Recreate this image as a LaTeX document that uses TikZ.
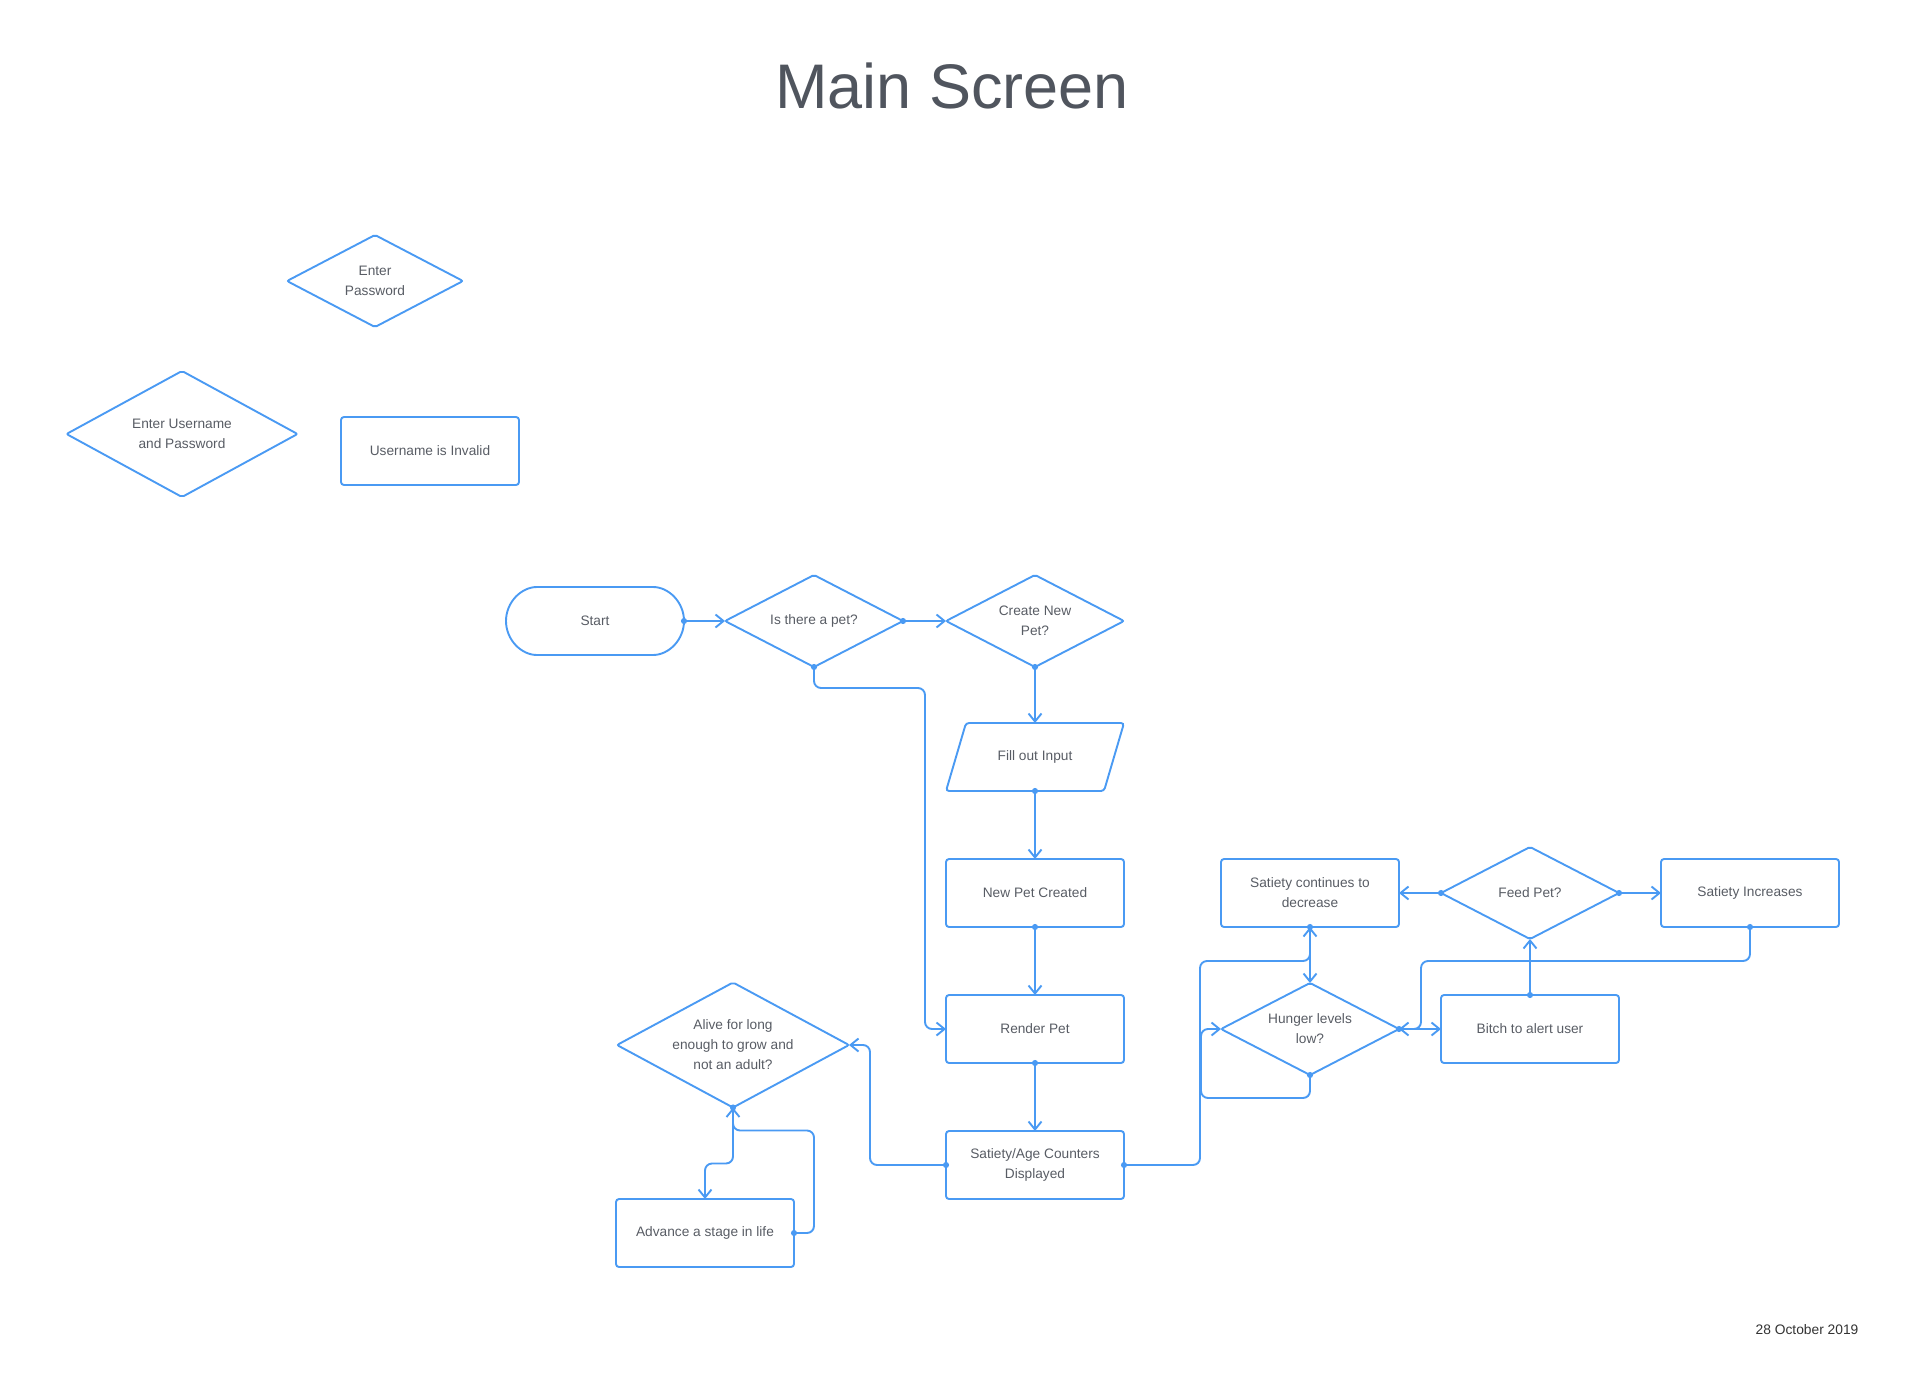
\documentclass[tikz,border=0pt]{standalone}
\usepackage{fontspec}
\setmainfont{Liberation Sans}
\usetikzlibrary{
	arrows.meta,
	shapes.geometric,
	shapes.misc
}
\tikzset{
	every picture/.style={
		line width=1.9pt,
		text=tc,
	},
}
\tikzstyle{box} = [
	rectangle,
	rounded corners=3pt,
	minimum width=178,
	minimum height=68,
	inner sep=0mm,
	outer sep=0mm,
	draw=lc,
	align=center,
	font=\fontsize{13.7}{20}\selectfont
]
\tikzstyle{term} = [box, rounded rectangle]
\tikzstyle{io} = [box, draw=none, minimum width=158]
\tikzstyle{ask} = [
	box,
	diamond,
	rounded corners=2pt,
	shape aspect=2,
	minimum height=92
]
\tikzstyle{flow} = [
	draw=lc,
	rounded corners=7pt,
	{Circle[length=6pt]}-{Straight Barb[length=8pt, width=13pt]},
	shorten <=-3pt
]
\definecolor{lc}{RGB}{74,154,243}
\definecolor{tc}{RGB}{88,92,100}
\definecolor{hc}{RGB}{80,85,94}

\begin{document}
\begin{tikzpicture}[x=1pt, y=-1pt]
	\useasboundingbox (0,0) rectangle (1905,1394);

	\node[text=hc, anchor=base, font=\fontsize{63}{70}\selectfont] (title) at (952,109) {Main Screen};
	\node[text=black!80, font=\fontsize{13.8}{16}\selectfont] (date) at (1807,1330) {28 October 2019};

	% login
	\node[ask, minimum width=176] (pwd) at (375,281) {Enter\\Password};
	\node[ask, minimum width=231, minimum height=126] (user) at (182,434) {Enter Username\\and Password};
	\node[box] (invalid) at (430,451) {Username is Invalid};

	% pet
	\node[term] (start) at (595,621) {Start};
	\node[ask] (haspet) at (814,621) {Is there a pet?};
	\node[ask] (create) at (1035,621) {Create New\\Pet?};
	\node[io] (input) at (1035,757) {Fill out Input};
	\draw[lc, rounded corners=3pt] ([xshift=-10pt]input.south west) -- ([xshift=-10pt]input.south east)
		-- ([xshift=10pt]input.north east) -- ([xshift=10pt]input.north west) -- cycle;
	\node[box] (created) at (1035,893) {New Pet Created};
	\node[box] (render) at (1035,1029) {Render Pet};
	\node[box] (counters) at (1035,1165) {Satiety/Age Counters\\Displayed};
	\node[ask, minimum width=232, minimum height=125] (alive) at (733,1045) {Alive for long\\enough to grow and\\not an adult?};
	\node[box] (advance) at (705,1233) {Advance a stage in life};

	% feeding
	\node[ask] (hunger) at (1310,1029) {Hunger levels\\low?};
	\node[box] (decrease) at (1310,893) {Satiety continues to\\decrease};
	\node[ask] (feed) at (1530,893) {Feed Pet?};
	\node[box] (increase) at (1750,893) {Satiety Increases};
	\node[box] (alert) at (1530,1029) {Bitch to alert user};

	\draw[flow] (start.east) -- (haspet.west);
	\draw[flow] (haspet.east) -- (create.west);
	\draw[flow] (haspet.south) -- ++(0,21) -| ([xshift=-21pt]render.west) -- (render.west);
	\draw[flow] (create.south) -- (input.north);
	\draw[flow] (input.south) -- (created.north);
	\draw[flow] (created.south) -- (render.north);
	\draw[flow] (render.south) -- (counters.north);
	\draw[flow] (counters.west) -- ++(-76,0) |- (alive.east);
	\draw[flow] (alive.south) -- ++(0,56) -| (advance.north);
	\draw[flow] (advance.east) -- ++(20,0) |- ([yshift=-23pt]alive.south) -- (alive.south);
	\draw[flow] (counters.east) -- ++(76,0) |- ([yshift=-34pt]decrease.south) -- (decrease.south);
	\draw[flow] (decrease.south) -- (hunger.north);
	\draw[flow] (hunger.south) -- ++(0,23) -| ([xshift=-20pt]hunger.west) -- (hunger.west);
	\draw[flow] (hunger.east) -- (alert.west);
	\draw[flow] (alert.north) -- (feed.south);
	\draw[flow] (feed.west) -- (decrease.east);
	\draw[flow] (feed.east) -- (increase.west);
	\draw[flow] (increase.south) -- ++(0,34) -| ([xshift=22pt]hunger.east) -- (hunger.east);
\end{tikzpicture}
\end{document}
